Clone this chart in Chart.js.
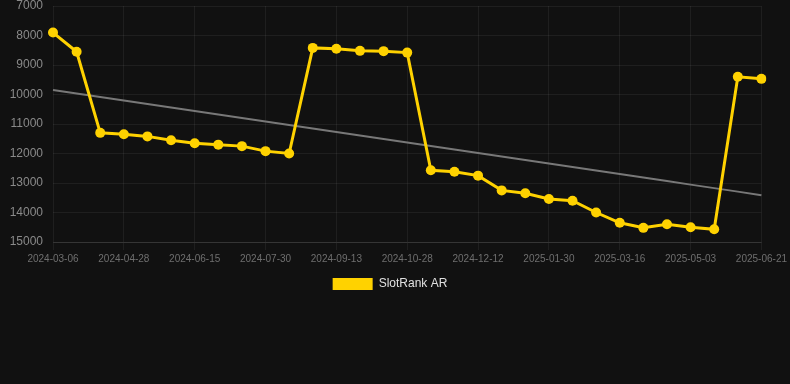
<!DOCTYPE html>
<html>
<head>
<meta charset="utf-8">
<script src="https://cdn.jsdelivr.net/npm/chart.js@4/dist/chart.umd.min.js"></script>
<style>
  html, body { margin: 0; padding: 0; background: #111111; }
  #wrap { width: 790px; height: 304px; position: relative; }
</style>
</head>
<body>
<div id="wrap"><canvas id="rankChart"></canvas></div>
<script>
// dates of each rank reading
var dates = [
    '2024-03-06', '2024-03-24', '2024-04-10', '2024-04-28', '2024-05-14', '2024-05-30',
    '2024-06-15', '2024-06-30', '2024-07-15', '2024-07-30', '2024-08-14', '2024-08-29',
    '2024-09-13', '2024-09-28', '2024-10-13', '2024-10-28', '2024-11-12', '2024-11-27',
    '2024-12-12', '2024-12-28', '2025-01-14', '2025-01-30', '2025-02-14', '2025-03-01',
    '2025-03-16', '2025-04-01', '2025-04-17', '2025-05-03', '2025-05-19', '2025-06-05',
    '2025-06-21'
];

// SlotRank AR values
var rankAR = [
    7900, 8550, 11300, 11350, 11420, 11550,
    11650, 11700, 11750, 11920, 12000, 8420,
    8450, 8520, 8530, 8580, 12570, 12620,
    12750, 13250, 13350, 13540, 13600, 14000,
    14350, 14520, 14400, 14500, 14570, 9400,
    9470
];

var yTicks = [7000, 8000, 9000, 10000, 11000, 12000, 13000, 14000, 15000];

// least squares trend over the series
function trendOf(vals) {
    var n = vals.length, sx = 0, sy = 0, sxy = 0, sxx = 0;
    for (let i = 0; i < n; i++) {
        sx += i; sy += vals[i]; sxy += i * vals[i]; sxx += i * i;
    }
    var slope = (n * sxy - sx * sy) / (n * sxx - sx * sx);
    var icpt = (sy - slope * sx) / n;
    var out = [];
    for (let i = 0; i < n; i++) out.push(icpt + slope * i);
    return out;
}

var trend = trendOf(rankAR);

var chartdata = {
    labels: dates,
    datasets: [
        {
            label: 'SlotRank AR',
            data: rankAR,
            borderColor: '#ffd200',
            backgroundColor: '#ffd200',
            borderWidth: 3,
            pointRadius: 5,
            pointHoverRadius: 5,
            pointBackgroundColor: '#ffd200',
            pointBorderWidth: 0,
            tension: 0,
            order: 1
        },
        {
            label: 'trend',
            data: trend,
            borderColor: '#787878',
            borderWidth: 2,
            pointRadius: 0,
            fill: false,
            order: 2
        }
    ]
};

var graphTarget = document.getElementById('rankChart');
var lineGraph = new Chart(graphTarget, {
    type: 'line',
    data: chartdata,
    options: {
        responsive: true,
        maintainAspectRatio: false,
        animation: false,
        layout: { autoPadding: false, padding: { left: 5, right: 15, top: 6, bottom: 4 } },
        scales: {
            x: {
                offset: false,
                grid: {
                    color: function (ctx) {
                        return ctx.index % 3 === 0 ? 'rgba(255,255,255,0.06)' : 'rgba(0,0,0,0)';
                    },
                    tickLength: 8
                },
                border: { color: 'rgba(255,255,255,0.1)' },
                ticks: {
                    autoSkip: false,
                    maxRotation: 0,
                    color: '#6f6f6f',
                    font: { size: 10 },
                    callback: function (val, idx) {
                        return idx % 3 === 0 ? dates[idx] : '';
                    }
                }
            },
            y: {
                reverse: true,
                min: 7000,
                max: 15000,
                afterBuildTicks: function (axis) {
                    axis.ticks = yTicks.map(function (v) { return { value: v }; });
                },
                afterFit: function (axis) {
                    axis.width = 48;
                    axis.paddingTop = 0;
                    axis.paddingBottom = 0;
                },
                grid: { color: 'rgba(255,255,255,0.06)', drawTicks: false },
                border: { display: false },
                ticks: {
                    color: '#8a8a8a',
                    font: { size: 12 },
                    padding: 10,
                    callback: function (v) { return String(v); }
                }
            }
        },
        plugins: {
            legend: {
                position: 'bottom',
                labels: {
                    color: '#e0e0e0',
                    font: { size: 12 },
                    boxWidth: 40,
                    boxHeight: 12,
                    filter: function (item) { return item.text === 'SlotRank AR'; },
                    generateLabels: function (chart) {
                        var items = Chart.defaults.plugins.legend.labels.generateLabels(chart);
                        items.forEach(function (it) { it.lineWidth = 0; });
                        return items;
                    }
                }
            },
            tooltip: { enabled: false }
        }
    }
});
</script>
</body>
</html>
